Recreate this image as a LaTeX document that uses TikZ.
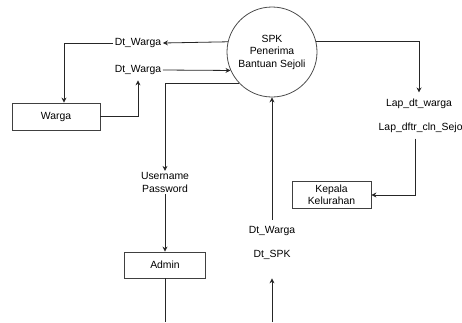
\documentclass[tikz,border=0pt]{standalone}
\usepackage{fontspec}
\setmainfont{Liberation Sans}
\usetikzlibrary{arrows.meta}
\tikzset{
  box/.style={draw=black!75, line width=.8pt, align=center},
  lbl/.style={inner sep=1.5pt, align=center},
  wire/.style={draw=black!85, line width=.8pt},
  flow/.style={wire, -{Stealth[length=5pt,width=5pt]}},
}
\begin{document}
\begin{tikzpicture}[x=1pt,y=-1pt,font=\fontsize{10.4}{12.5}\selectfont]
  \useasboundingbox (0,0) rectangle (462,322);
  % process and external entities
  \node[circle,draw=black!70,line width=.8pt,minimum size=90pt,inner sep=0pt,align=center] (spk) at (272,52) {SPK\\Penerima\\Bantuan Sejoli};
  \node[box,minimum width=88pt,minimum height=27pt] (warga) at (56,116.5) {Warga};
  \node[box,minimum width=81pt,minimum height=26pt] (admin) at (165,265) {Admin};
  \node[box,minimum width=79pt,minimum height=26pt] (kepala) at (331.5,195) {Kepala\\Kelurahan};
  % flow labels
  \node[lbl] (dw1) at (138,43) {Dt\_Warga};
  \node[lbl] (dw2) at (138,70) {Dt\_Warga};
  \node[lbl] (user) at (165,182.5) {Username\\Password};
  \node[lbl] (dw3) at (272,231) {Dt\_Warga};
  \node[lbl] (dspk) at (272,255) {Dt\_SPK};
  \node[lbl] (lapdt) at (419,104) {Lap\_dt\_warga};
  \node[lbl,anchor=west] (lapdftr) at (377,128) {Lap\_dftr\_cln\_Sejo};
  \coordinate (admbot) at (165,322);
  \coordinate (spkbot) at (272,322);
  % flows
  \draw[flow] (spk.167) -- (dw1.east);
  \draw[flow] (dw1.west) -| ([xshift=8pt]warga.north);
  \draw[flow] (dw2.east) -- (spk.204);
  \draw[flow,shorten >=4pt] (warga.east) -| (dw2.south);
  \draw[flow] (spk.224) -| (user.north);
  \draw[flow] (user.south) -- (admin.north);
  \draw[wire] (admin.south) -- (admbot);
  \draw[flow,shorten <=5pt] (dw3.north) -- (spk.south);
  \draw[flow,shorten >=17pt] (spkbot) -- (dspk.south);
  \draw[flow,shorten >=5pt] (spk.13) -| (lapdt.north);
  \draw[flow,shorten <=4pt] ([xshift=-5pt]lapdftr.south) |- (kepala.east);
\end{tikzpicture}
\end{document}
